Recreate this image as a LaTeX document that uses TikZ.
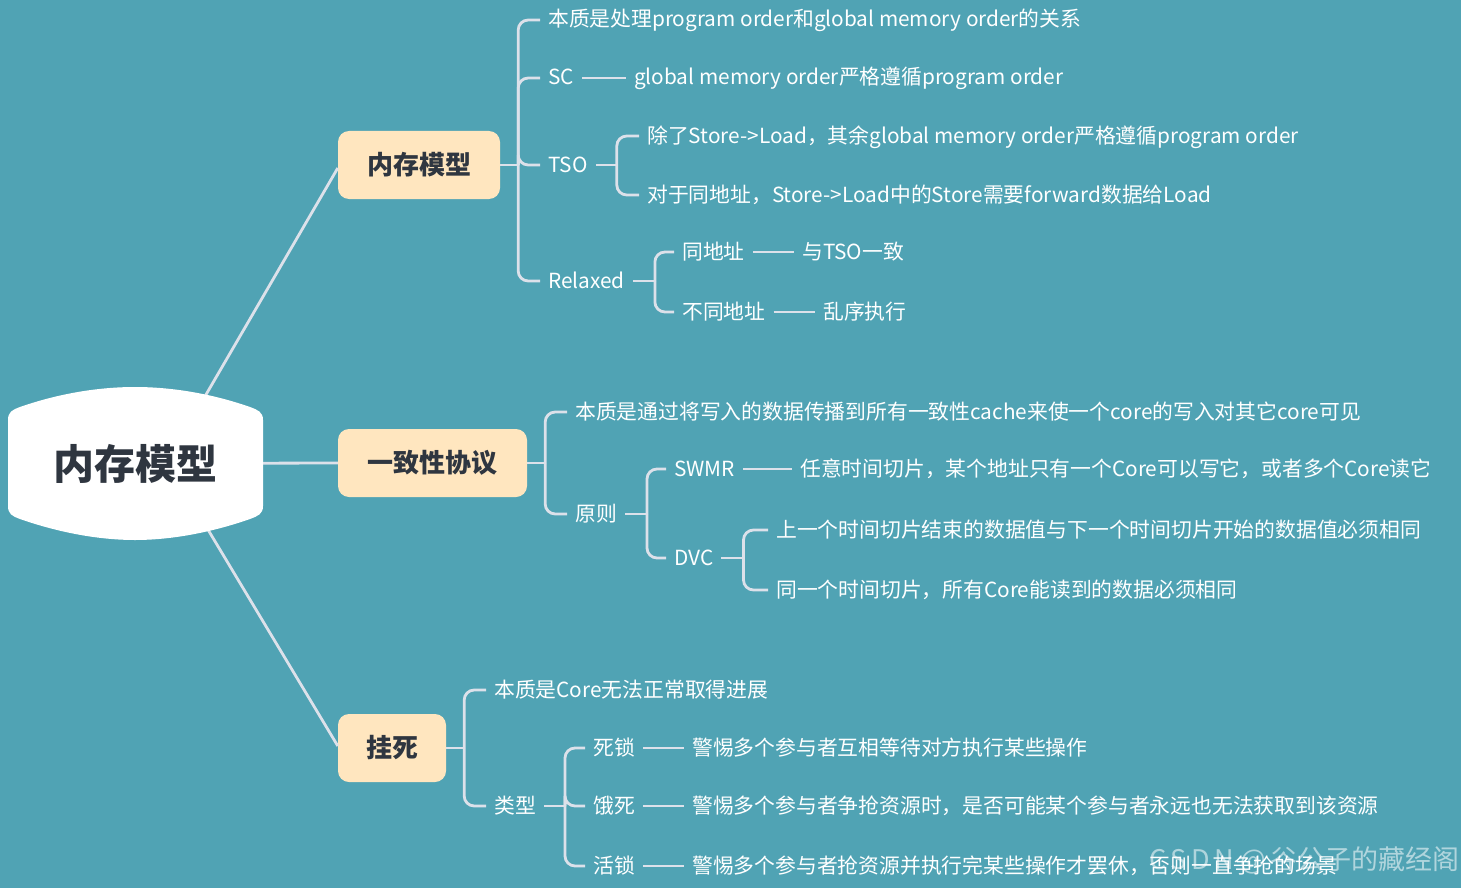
\documentclass[tikz,border=0pt]{standalone}
\usepackage{fontspec}
\setmainfont{Noto Sans CJK SC}
\usetikzlibrary{calc}
\definecolor{bg}{HTML}{50A3B4}
\definecolor{linec}{HTML}{DCE1EA}
\definecolor{peach}{HTML}{FFE6BF}
\definecolor{darkt}{HTML}{2F3640}
\tikzset{
  conn/.style={draw=linec, line width=2.8pt},
  leaf/.style={anchor=west, text=white, font=\fontsize{20.8}{24}\selectfont, inner xsep=8pt, inner ysep=0pt, text height=17pt, text depth=3pt},
  topic/.style={fill=peach, rounded corners=11pt, text=darkt, font=\fontsize{26}{30}\selectfont\bfseries, minimum height=68pt, inner sep=0pt},
}
\newcommand\kid[3]{\draw[conn] (#1.east) -- ++(#3,0) coordinate (j); \draw[conn, rounded corners=10pt] (j) |- (#2.west);}
\begin{document}
\begin{tikzpicture}[x=1pt,y=-1pt]
\useasboundingbox (0,0) rectangle (1461,888);
\fill[bg] (0,0) rectangle (1461,888);
% root
\node[inner sep=0pt, minimum width=255pt, minimum height=153pt] (root) at (135.5,463.5) {};
% topics
\node[topic, minimum width=162pt] (n1) at (419,165) {内存模型};
\node[topic, minimum width=189pt] (n2) at (432.5,463) {一致性协议};
\node[topic, minimum width=108pt] (n3) at (392,748) {挂死};
\draw[conn] ($(root.center)+(70,-68)$) -- ($(n1.west)+(0,3)$);
\draw[conn] (root.center) -- (n2.west);
\draw[conn] ($(root.center)+(73,67)$) -- ($(n3.west)+(0,-2)$);
\fill[white] (8,420) -- (8,506) .. controls (8,514) and (12,516) .. (20,519) .. controls (60,533) and (100,540) .. (135,540) .. controls (170,540) and (210,533) .. (250,519) .. controls (258,516) and (263,514) .. (263,506) -- (263,420) .. controls (263,412) and (258,410) .. (250,407) .. controls (210,393) and (170,387) .. (135,387) .. controls (100,387) and (60,393) .. (20,407) .. controls (12,410) and (8,412) .. cycle;
\node[text=darkt, font=\fontsize{41}{46}\selectfont\bfseries] at (root.center) {内存模型};
% branch 1
\node[leaf] (a1) at (540,20) {本质是处理program order和global memory order的关系};
\node[leaf] (a2) at (540,78) {SC};
\node[leaf] (a2d) at (626,78) {global memory order严格遵循program order};
\node[leaf] (a3) at (540,165) {TSO};
\node[leaf] (a3a) at (639,136) {除了Store->Load，其余global memory order严格遵循program order};
\node[leaf] (a3b) at (639,195) {对于同地址，Store->Load中的Store需要forward数据给Load};
\node[leaf] (a4) at (540,281) {Relaxed};
\node[leaf] (a4a) at (674,252) {同地址};
\node[leaf] (a4ad) at (794,252) {与TSO一致};
\node[leaf] (a4b) at (674,312) {不同地址};
\node[leaf] (a4bd) at (815,312) {乱序执行};
\kid{n1}{a1}{18} \kid{n1}{a2}{18} \kid{n1}{a3}{18} \kid{n1}{a4}{18}
\draw[conn] (a2.east) -- (a2d.west);
\kid{a3}{a3a}{21} \kid{a3}{a3b}{21}
\kid{a4}{a4a}{22} \kid{a4}{a4b}{22}
\draw[conn] (a4a.east) -- (a4ad.west);
\draw[conn] (a4b.east) -- (a4bd.west);
% branch 2
\node[leaf] (b1) at (567,412) {本质是通过将写入的数据传播到所有一致性cache来使一个core的写入对其它core可见};
\node[leaf] (b2) at (567,514) {原则};
\node[leaf] (b2a) at (666,469) {SWMR};
\node[leaf] (b2ad) at (792,469) {任意时间切片，某个地址只有一个Core可以写它，或者多个Core读它};
\node[leaf] (b2b) at (666,558) {DVC};
\node[leaf] (b2b1) at (768,530) {上一个时间切片结束的数据值与下一个时间切片开始的数据值必须相同};
\node[leaf] (b2b2) at (768,590) {同一个时间切片，所有Core能读到的数据必须相同};
\kid{n2}{b1}{18} \kid{n2}{b2}{18}
\kid{b2}{b2a}{22} \kid{b2}{b2b}{22}
\draw[conn] (b2a.east) -- (b2ad.west);
\kid{b2b}{b2b1}{22} \kid{b2b}{b2b2}{22}
% branch 3
\node[leaf] (c1) at (486,690) {本质是Core无法正常取得进展};
\node[leaf] (c2) at (486,806) {类型};
\node[leaf] (c2a) at (585,748) {死锁};
\node[leaf] (c2ad) at (684,748) {警惕多个参与者互相等待对方执行某些操作};
\node[leaf] (c2b) at (585,806) {饿死};
\node[leaf] (c2bd) at (684,806) {警惕多个参与者争抢资源时，是否可能某个参与者永远也无法获取到该资源};
\node[leaf] (c2c) at (585,866) {活锁};
\node[leaf] (c2cd) at (684,866) {警惕多个参与者抢资源并执行完某些操作才罢休，否则一直争抢的场景};
\kid{n3}{c1}{18} \kid{n3}{c2}{18}
\kid{c2}{c2a}{21} \kid{c2}{c2b}{21} \kid{c2}{c2c}{21}
\draw[conn] (c2a.east) -- (c2ad.west);
\draw[conn] (c2b.east) -- (c2bd.west);
\draw[conn] (c2c.east) -- (c2cd.west);
% watermark
\node[anchor=west, text=white, opacity=0.55, font=\fontsize{27}{30}\selectfont, inner sep=0pt] (wm) at (1149,860) {C\,S\,D\,N @\,谷公子的藏经阁};
\end{tikzpicture}
\end{document}
